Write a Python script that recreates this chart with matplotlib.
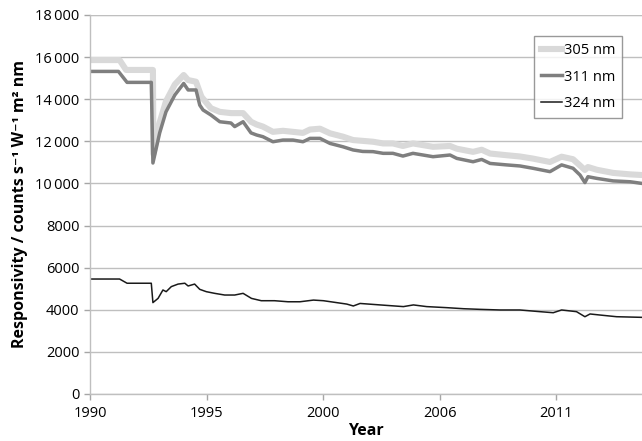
import matplotlib.pyplot as plt
import numpy as np

plt.rcParams['font.family'] = ['Open Sans', 'DejaVu Sans']

# 305 nm
yr_305 = [1990.0, 1991.27, 1991.55, 1992.70, 1992.72, 1992.99, 1993.26, 1993.64, 1994.02,
          1994.21, 1994.55, 1994.78, 1995.19, 1995.57, 1996.05, 1996.57, 1996.91, 1997.15,
          1997.42, 1997.85, 1998.28, 1998.71, 1999.14, 1999.44, 1999.87, 2000.30, 2000.86,
          2001.29, 2002.15, 2002.58, 2003.00, 2003.43, 2003.86, 2004.29, 2004.72, 2005.45,
          2005.74, 2006.44, 2006.81, 2007.17, 2007.88, 2008.45, 2009.01, 2009.74, 2010.24,
          2010.73, 2011.03, 2011.24, 2011.37, 2011.75, 2012.45, 2013.18, 2013.69]
r_305 = [15860, 15860, 15390, 15390, 11400, 12900, 13900, 14700, 15150,
         14910, 14830, 14120, 13570, 13400, 13340, 13340, 12930, 12800,
         12700, 12450, 12500, 12450, 12400, 12560, 12600, 12380, 12220,
         12060, 11980, 11900, 11900, 11780, 11900, 11820, 11740, 11780,
         11650, 11500, 11600, 11420, 11340, 11280, 11180, 11020, 11270,
         11150, 10850, 10640, 10780, 10650, 10500, 10430, 10400]

# 311 nm
yr_311 = [1990.0, 1991.22, 1991.59, 1992.63, 1992.70, 1992.99, 1993.26, 1993.64, 1994.02,
          1994.21, 1994.55, 1994.71, 1994.85, 1995.19, 1995.57, 1996.05, 1996.21, 1996.57,
          1996.91, 1997.15, 1997.42, 1997.85, 1998.28, 1998.71, 1999.14, 1999.44, 1999.87,
          2000.30, 2000.86, 2001.29, 2001.70, 2002.15, 2002.58, 2003.00, 2003.43, 2003.86,
          2004.29, 2004.72, 2005.45, 2005.74, 2006.44, 2006.81, 2007.17, 2007.88, 2008.45,
          2009.01, 2009.74, 2010.24, 2010.73, 2011.03, 2011.24, 2011.37, 2011.75, 2012.45,
          2013.18, 2013.69]
r_311 = [15320, 15320, 14800, 14800, 10970, 12400, 13400, 14200, 14750,
         14440, 14440, 13720, 13490, 13250, 12930, 12870, 12700, 12930,
         12400, 12300, 12220, 11980, 12060, 12060, 11980, 12140, 12140,
         11900, 11740, 11590, 11520, 11510, 11430, 11430, 11300, 11430,
         11350, 11270, 11350, 11190, 11030, 11140, 10950, 10880, 10830,
         10720, 10560, 10880, 10720, 10400, 10040, 10320, 10240, 10120,
         10080, 10000]

# 324 nm
yr_324 = [1990.0, 1991.27, 1991.59, 1992.63, 1992.70, 1992.92, 1993.13, 1993.27, 1993.49,
          1993.78, 1994.07, 1994.21, 1994.49, 1994.71, 1994.99, 1995.35, 1995.78, 1996.21,
          1996.57, 1996.93, 1997.35, 1997.92, 1998.50, 1999.01, 1999.59, 2000.02, 2001.02,
          2001.30, 2001.59, 2002.45, 2003.45, 2003.88, 2004.45, 2005.31, 2006.03, 2006.73,
          2007.60, 2008.45, 2009.31, 2009.88, 2010.24, 2010.88, 2011.24, 2011.46, 2011.89,
          2012.60, 2013.69]
r_324 = [5460, 5460, 5260, 5260, 4340, 4540, 4940, 4860, 5100,
         5220, 5260, 5130, 5220, 4970, 4860, 4780, 4700, 4700,
         4780, 4540, 4430, 4430, 4380, 4380, 4460, 4430, 4270,
         4180, 4300, 4230, 4150, 4230, 4150, 4100, 4050, 4020,
         3990, 3990, 3910, 3860, 3990, 3910, 3670, 3800, 3750,
         3670, 3640]

xtick_pos = [1990, 1995, 2000, 2005, 2010]
xtick_lab = ['1990', '1995', '2000', '2006', '2011']
ytick_pos = np.arange(0, 18001, 2000)
ytick_lab = ['0', '2000', '4000', '6000', '8000', '10\u2009000', '12\u2009000',
             '14\u2009000', '16\u2009000', '18\u2009000']

fig = plt.figure(figsize=(6.42, 4.41), dpi=100)
ax = fig.add_axes([0.1402, 0.1066, 0.8598, 0.8594])

ax.plot(yr_305, r_305, color='#d9d9d9', linewidth=4.4, label='305 nm', solid_joinstyle='round')
ax.plot(yr_311, r_311, color='#7f7f7f', linewidth=2.5, label='311 nm', solid_joinstyle='round')
ax.plot(yr_324, r_324, color='#1a1a1a', linewidth=1.1, label='324 nm')

ax.set_xlim(1990, 2013.69)
ax.set_ylim(0, 18000)
ax.set_xticks(xtick_pos)
ax.set_xticklabels(xtick_lab)
ax.set_yticks(ytick_pos)
ax.set_yticklabels(ytick_lab)
ax.tick_params(labelsize=10.5, colors='#a6a6a6', labelcolor='black', length=4, width=1)
ax.tick_params(axis='x', pad=5)

ax.grid(axis='y', color='#bfbfbf', linewidth=1)
ax.set_axisbelow(True)
for s in ['top', 'right']:
    ax.spines[s].set_visible(False)
for s in ['left', 'bottom']:
    ax.spines[s].set_color('#bfbfbf')
    ax.spines[s].set_linewidth(1)
ax.axhline(18000, color='#868686', linewidth=1.5, zorder=0)

ax.set_xlabel('Year', fontsize=11.5, fontweight='bold', labelpad=1)
ax.set_ylabel('Responsivity / counts s\u207b\u00b9 W\u207b\u00b9 m\u00b2 nm', fontsize=11.5,
              fontweight='bold', labelpad=5)

leg = ax.legend(loc='upper right', bbox_to_anchor=(0.977, 0.963),
                fontsize=10.5, frameon=True, fancybox=False, handlelength=1.5,
                handletextpad=0.1, labelspacing=0.8, borderpad=0.45)
leg.get_frame().set_edgecolor('#808080')
leg.get_frame().set_linewidth(1)

fig.savefig('out.png', dpi=100)
